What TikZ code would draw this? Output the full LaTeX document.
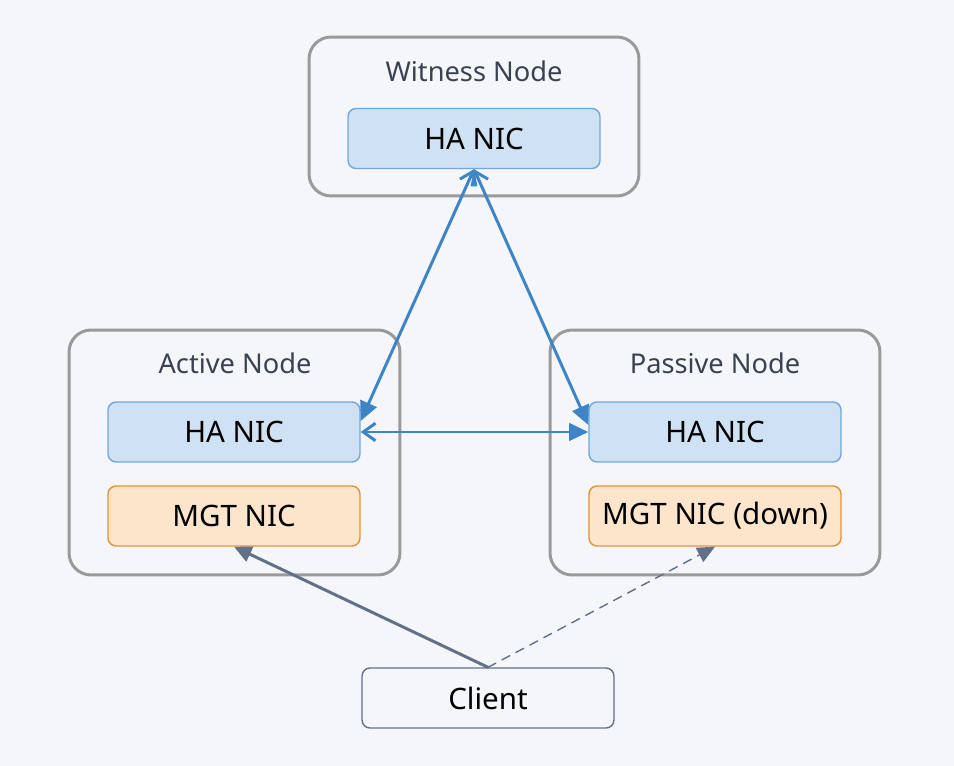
\documentclass[tikz,border=0pt]{standalone}
\usepackage{fontspec}
\setmainfont{Noto Sans}
\usetikzlibrary{arrows.meta}
\definecolor{bgcol}{HTML}{F4F6FA}
\definecolor{boxline}{HTML}{9A9A9A}
\definecolor{titlecol}{HTML}{3A4252}
\definecolor{hafill}{HTML}{CFE2F3}
\definecolor{haline}{HTML}{6FA8DC}
\definecolor{mgtfill}{HTML}{FDE5CC}
\definecolor{mgtline}{HTML}{E69138}
\definecolor{linkcol}{HTML}{3D85C6}
\definecolor{slatecol}{HTML}{637188}
\begin{document}
\begin{tikzpicture}[x=0.02cm, y=-0.02cm, line join=round, line cap=round,
    hostbox/.style={draw=boxline, line width=1.7pt, fill=bgcol, rounded corners=0.44cm, minimum height=#1},
    hostbox/.default=4.9cm,
    hosttitle/.style={text=titlecol, font=\fontsize{15.5}{17}\selectfont},
    nic/.style={draw=haline, line width=0.8pt, fill=hafill, rounded corners=0.16cm, minimum width=5.04cm, minimum height=1.2cm, font=\fontsize{16.8}{19}\selectfont},
    mgt/.style={nic, draw=mgtline, fill=mgtfill},
    clientbox/.style={nic, draw=slatecol, fill=bgcol},
    halink/.style={draw=linkcol, line width=1.7pt, {Straight Barb[length=7pt,width=10pt]}-{Triangle[length=11pt,width=10pt]}},
    mgtlink/.style={draw=slatecol, line width=1.7pt, -{Triangle[length=10pt,width=9pt]}}]
  \fill[bgcol] (0,0) rectangle (954,766);
  \useasboundingbox (0,0) rectangle (954,766);
  % hosts
  \node[hostbox=3.18cm, minimum width=6.6cm] (witness) at (474,116.5) {};
  \node[hostbox, minimum width=6.62cm] (active) at (234.5,452.5) {};
  \node[hostbox, minimum width=6.6cm] (passive) at (715,452.5) {};
  \node[hosttitle] (wtitle) at (474,71) {Witness Node};
  \node[hosttitle] (atitle) at (235,363) {Active Node};
  \node[hosttitle] (ptitle) at (715,363) {Passive Node};
  % nics
  \node[nic] (wha) at (474,138.5) {HA NIC};
  \node[nic] (aha) at (234,432) {HA NIC};
  \node[mgt] (amgt) at (234,516) {MGT NIC};
  \node[nic] (pha) at (715,432) {HA NIC};
  \node[mgt] (pmgt) at (715,516) {MGT NIC (down)};
  \node[clientbox] (client) at (488,698) {Client};
  % links
  \draw[halink] (wha.south) -- ([yshift=0.22cm]aha.east);
  \draw[halink] (wha.south) -- ([yshift=0.14cm]pha.west);
  \draw[halink] (aha.east) -- (pha.west);
  \draw[mgtlink] (client.north) -- (amgt.south);
  \draw[mgtlink, line width=0.8pt, dash pattern=on 5pt off 4pt] (client.north) -- (pmgt.south);
\end{tikzpicture}
\end{document}
